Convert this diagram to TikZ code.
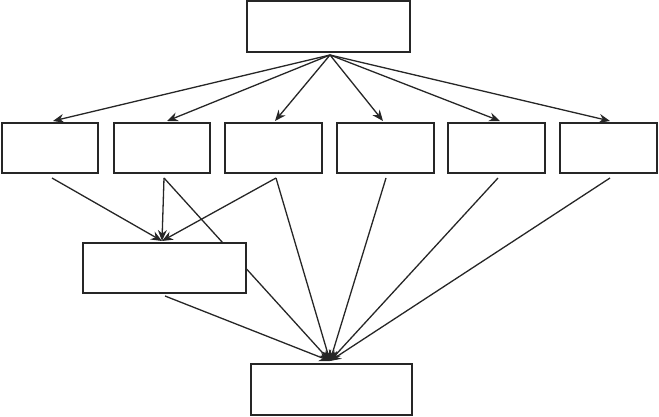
\documentclass[tikz,border=0pt]{standalone}
\usetikzlibrary{arrows.meta}
\begin{document}
\begin{tikzpicture}[x=1pt,y=-1pt,
  box/.style={draw=black!85,line width=1.5pt,fill=white,inner sep=0pt},
  conn/.style={draw=black!85,line width=1.3pt},
  arr/.style={conn,-{Stealth[length=11pt,width=9pt]}}]
\useasboundingbox (0,0) rectangle (659,417);
% free end points
\coordinate (apex) at (330,55);
\coordinate (m) at (162,241);
\coordinate (b) at (330,361);
\coordinate (s1) at (52,178);
\coordinate (s2) at (164,178);
\coordinate (s3) at (276,178);
\coordinate (s4) at (386,178);
\coordinate (s5) at (498,178);
\coordinate (s6) at (610,178);
\coordinate (sm) at (165,296);
\coordinate (t1) at (53,121);
\coordinate (t2) at (167,121);
\coordinate (t3) at (275,121);
\coordinate (t4) at (383,121);
\coordinate (t5) at (500,121);
\coordinate (t6) at (610,121);
% connectors (drawn first so boxes cover them)
\foreach \t in {t1,t2,t3,t4,t5,t6} \draw[arr] (apex) -- (\t);
\foreach \s in {s1,s2,s3} \draw[arr] (\s) -- (m);
\foreach \s in {s2,s3,s4,s5,s6,sm} \draw[arr] (\s) -- (b);
% boxes
\node[box,minimum width=163pt,minimum height=51pt] (top) at (328.5,26.5) {};
\node[box,minimum width=96pt,minimum height=50pt] (r1) at (50,148) {};
\node[box,minimum width=96pt,minimum height=50pt] (r2) at (162,148) {};
\node[box,minimum width=97pt,minimum height=50pt] (r3) at (273.5,148) {};
\node[box,minimum width=97pt,minimum height=50pt] (r4) at (385.5,148) {};
\node[box,minimum width=97pt,minimum height=50pt] (r5) at (496.5,148) {};
\node[box,minimum width=97pt,minimum height=50pt] (r6) at (608.5,148) {};
\node[box,minimum width=163pt,minimum height=50pt] (mid) at (164.5,268) {};
\node[box,minimum width=161pt,minimum height=51pt] (bot) at (331.5,389.5) {};
\end{tikzpicture}
\end{document}
